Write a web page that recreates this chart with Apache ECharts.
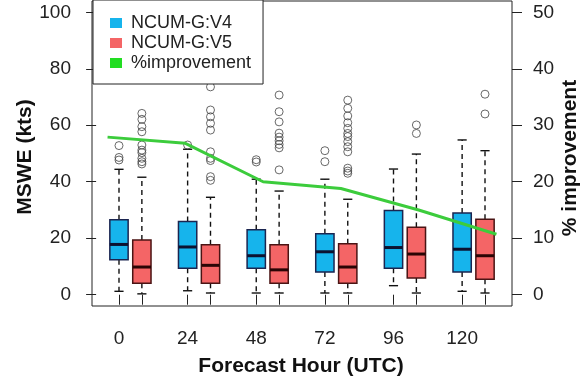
<!DOCTYPE html>
<html>
<head>
<meta charset="utf-8">
<script src="https://cdn.jsdelivr.net/npm/echarts@6/dist/echarts.min.js"></script>
<style>
  html, body { margin: 0; padding: 0; background: #fff; }
  #chart { width: 584px; height: 381px; }
</style>
</head>
<body>
<div id="chart"></div>
<script>
// Forecast lead times (hours)
const hours = [0, 24, 48, 72, 96, 120];

// Box statistics per lead time: [lower whisker, Q1, median, Q3, upper whisker]
const v4Stats = [
  [1.2, 12.4, 17.8, 26.5, 44.4],
  [1.4, 9.4, 16.9, 25.9, 51.5],
  [0.6, 9.4, 13.8, 23.0, 40.9],
  [0.6, 8.0, 15.2, 21.6, 40.9],
  [3.2, 9.4, 16.7, 29.8, 44.5],
  [1.2, 8.0, 16.1, 28.9, 54.8]
];
const v5Stats = [
  [0.3, 4.1, 9.8, 19.4, 41.6],
  [0.6, 4.1, 10.4, 17.7, 34.5],
  [0.6, 4.1, 8.8, 17.7, 36.7],
  [0.6, 4.1, 9.8, 18.0, 33.8],
  [0.6, 5.9, 14.4, 23.9, 49.8],
  [0.6, 5.5, 13.8, 26.7, 51.0]
];

// Outlying values per lead time
const v4Outliers = [
  [47.7, 48.6, 52.8],
  [53.0],
  [47.0, 47.8],
  [47.1, 51.0],
  [],
  []
];
const v5Outliers = [
  [64.2, 62.1, 59.5, 57.7, 53.0, 51.2, 50.3, 48.3, 47.1, 46.3],
  [73.6, 65.4, 63.0, 60.7, 58.3, 50.6, 48.3, 47.5, 41.8, 40.5],
  [70.7, 64.8, 61.2, 57.2, 55.8, 54.5, 53.2, 52.0, 44.2],
  [68.9, 66.0, 63.3, 60.9, 58.9, 57.1, 56.0, 54.2, 52.4, 50.6, 44.8, 43.8, 43.0],
  [60.1, 57.1],
  [71.0, 64.0]
];

// Percentage improvement of V5 over V4
const improvement = [27.9, 26.8, 20.0, 18.8, 15.0, 10.7];

const leftTicks = [0, 20, 40, 60, 80, 100];
const rightTicks = [0, 10, 20, 30, 40, 50];

const FONT = "'Liberation Sans', Arial, sans-serif";
const BLUE = '#16b4ec';
const RED = '#f46566';
const GREEN = '#3ccc3c';

// box positions on the x scale: pairs at 1,2 / 4,5 / ...
const posV4 = hours.map((h, i) => i * 3 + 1);
const posV5 = hours.map((h, i) => i * 3 + 2);
const allPos = posV4.concat(posV5).sort((a, b) => a - b);

const v4Data = v4Stats.map((s, i) => [posV4[i]].concat(s));
const v5Data = v5Stats.map((s, i) => [posV5[i]].concat(s));

function outlierPoints(list, pos) {
  const pts = [];
  list.forEach((vals, i) => vals.forEach(v => pts.push([pos[i], v])));
  return pts;
}

function boxRenderer(fill, border, medianColor) {
  return function (params, api) {
    const x = api.value(0);
    const lo = api.coord([x, api.value(1)]);
    const q1 = api.coord([x, api.value(2)]);
    const md = api.coord([x, api.value(3)]);
    const q3 = api.coord([x, api.value(4)]);
    const hi = api.coord([x, api.value(5)]);
    const half = api.size([0.8, 0])[0] / 2;
    const cap = half / 2;
    const cx = q1[0];
    const dash = { stroke: '#111', lineWidth: 1.4, lineDash: [5, 4] };
    const solid = { stroke: '#111', lineWidth: 1.4 };
    return {
      type: 'group',
      children: [
        { type: 'line', shape: { x1: cx, y1: q3[1], x2: cx, y2: hi[1] }, style: dash },
        { type: 'line', shape: { x1: cx, y1: q1[1], x2: cx, y2: lo[1] }, style: dash },
        { type: 'line', shape: { x1: cx - cap, y1: hi[1], x2: cx + cap, y2: hi[1] }, style: solid },
        { type: 'line', shape: { x1: cx - cap, y1: lo[1], x2: cx + cap, y2: lo[1] }, style: solid },
        { type: 'rect', shape: { x: cx - half, y: q3[1], width: half * 2, height: q1[1] - q3[1] },
          style: { fill: fill, stroke: border, lineWidth: 1.5 } },
        { type: 'line', shape: { x1: cx - half, y1: md[1], x2: cx + half, y2: md[1] },
          style: { stroke: medianColor, lineWidth: 3 } }
      ]
    };
  };
}

const chart = echarts.init(document.getElementById('chart'), null, { renderer: 'canvas' });

const axisTextStyle = { color: '#222', fontSize: 19, fontFamily: FONT };

chart.setOption({
  animation: false,
  backgroundColor: '#fff',
  textStyle: { fontFamily: FONT },
  grid: {
    left: 92, right: 72, top: 1, bottom: 75,
    show: true, borderColor: '#222', borderWidth: 1, backgroundColor: 'transparent'
  },
  xAxis: [
    {
      type: 'value', min: -0.18, max: 18.18,
      axisLine: { show: false },
      splitLine: { show: false },
      axisTick: { show: true, inside: false, length: 10, customValues: allPos,
        lineStyle: { color: '#222', width: 1 } },
      axisLabel: Object.assign({ show: true, margin: 23, customValues: posV4,
        formatter: v => String(hours[posV4.indexOf(v)]) }, axisTextStyle)
    },
    {
      type: 'value', min: 0.8, max: 6.2, show: false
    }
  ],
  yAxis: [
    {
      type: 'value', min: -4, max: 104, position: 'left',
      axisLine: { show: false },
      splitLine: { show: false },
      axisTick: { show: true, length: 10, customValues: leftTicks,
        lineStyle: { color: '#222', width: 1 } },
      axisLabel: Object.assign({ margin: 21, customValues: leftTicks }, axisTextStyle)
    },
    {
      type: 'value', min: -2, max: 52, position: 'right',
      axisLine: { show: false },
      splitLine: { show: false },
      axisTick: { show: true, length: 10, customValues: rightTicks,
        lineStyle: { color: '#222', width: 1 } },
      axisLabel: Object.assign({ margin: 21, customValues: rightTicks }, axisTextStyle)
    }
  ],
  legend: {
    left: 93, top: 0,
    orient: 'vertical',
    backgroundColor: '#fff',
    borderColor: '#222', borderWidth: 1, borderRadius: 0,
    padding: [14, 12, 12, 17],
    itemWidth: 12, itemHeight: 10, itemGap: 2,
    textStyle: { fontSize: 18, color: '#222', fontFamily: FONT, padding: [0, 0, 0, 4] },
    data: [
      { name: 'NCUM-G:V4', icon: 'rect', itemStyle: { color: BLUE } },
      { name: 'NCUM-G:V5', icon: 'rect', itemStyle: { color: RED } },
      { name: '%improvement', icon: 'rect', itemStyle: { color: '#22dd22' } }
    ],
    z: 20
  },
  series: [
    {
      name: 'NCUM-G:V4', type: 'custom', xAxisIndex: 0, yAxisIndex: 0,
      itemStyle: { color: BLUE },
      encode: { x: 0, y: [1, 2, 3, 4, 5] },
      renderItem: boxRenderer(BLUE, '#1b2550', '#0c1230'),
      data: v4Data, z: 2
    },
    {
      name: 'NCUM-G:V5', type: 'custom', xAxisIndex: 0, yAxisIndex: 0,
      itemStyle: { color: RED },
      encode: { x: 0, y: [1, 2, 3, 4, 5] },
      renderItem: boxRenderer(RED, '#4a1414', '#2a0505'),
      data: v5Data, z: 2
    },
    {
      name: 'V4 outliers', type: 'scatter', xAxisIndex: 0, yAxisIndex: 0,
      symbol: 'circle', symbolSize: 8,
      itemStyle: { color: 'rgba(0,0,0,0)', borderColor: '#444', borderWidth: 1 },
      data: outlierPoints(v4Outliers, posV4), z: 3, silent: true
    },
    {
      name: 'V5 outliers', type: 'scatter', xAxisIndex: 0, yAxisIndex: 0,
      symbol: 'circle', symbolSize: 8,
      itemStyle: { color: 'rgba(0,0,0,0)', borderColor: '#444', borderWidth: 1 },
      data: outlierPoints(v5Outliers, posV5), z: 3, silent: true
    },
    {
      name: '%improvement', type: 'line', xAxisIndex: 1, yAxisIndex: 1,
      showSymbol: false, symbol: 'none',
      itemStyle: { color: GREEN },
      lineStyle: { color: GREEN, width: 3 },
      data: improvement.map((v, i) => [i + 1, v]), z: 5
    }
  ],
  graphic: [
    { type: 'text', x: 301, y: 366, style: { text: 'Forecast Hour (UTC)', font: 'bold 21px ' + FONT,
      fill: '#111', textAlign: 'center', textVerticalAlign: 'middle' } },
    { type: 'text', x: 25, y: 157, rotation: Math.PI / 2, style: { text: 'MSWE (kts)', font: 'bold 21px ' + FONT,
      fill: '#111', textAlign: 'center', textVerticalAlign: 'middle' } },
    { type: 'text', x: 570, y: 158, rotation: Math.PI / 2, style: { text: '% improvement', font: 'bold 21px ' + FONT,
      fill: '#111', textAlign: 'center', textVerticalAlign: 'middle' } }
  ]
});
</script>
</body>
</html>
